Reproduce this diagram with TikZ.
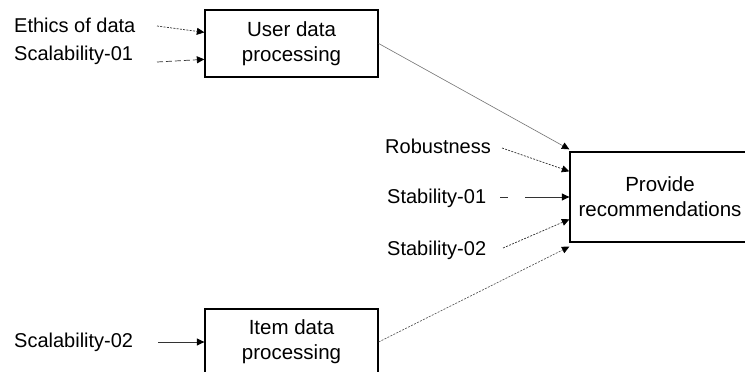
\documentclass[tikz,border=0pt]{standalone}
\usepackage{fontspec}
\setmainfont{Liberation Sans}
\usetikzlibrary{arrows.meta,calc}
\begin{document}
\begin{tikzpicture}[x=1pt,y=-1pt,
  boxnode/.style={draw=black,line width=1.3pt,rectangle,inner sep=0pt,align=center,
    font=\fontsize{20.5}{25}\selectfont},
  lbl/.style={anchor=base west,inner sep=0pt,font=\fontsize{20}{24}\selectfont},
  conn/.style={draw=black!80,line width=0.7pt,-{Triangle[length=7.5pt,width=7pt,color=black,fill=black]}},
  fine/.style={conn,dash pattern=on 2pt off 1.3pt},
  longdash/.style={conn,dash pattern=on 6pt off 3pt}
]
\useasboundingbox (0,0) rectangle (745,372);
\fill[white] (0,0) rectangle (745,372);

% boxes
\node[boxnode,minimum width=173pt,minimum height=67pt] (user) at (291.5,43.5) {User data\\processing};
\node[boxnode,minimum width=180pt,minimum height=90pt] (prov) at (660,197) {Provide\\recommendations};
\node[boxnode,minimum width=173pt,minimum height=66pt] (item) at (291.5,342) {Item data\\processing};

% labels
\node[lbl] (ethics) at (14,32.5) {Ethics of data};
\node[lbl] (scalA) at (14,60) {Scalability-01};
\node[lbl] (robust) at (385,153) {Robustness};
\node[lbl] (stabA) at (387,203) {Stability-01};
\node[lbl] (stabB) at (387,255) {Stability-02};
\node[lbl] (scalB) at (14,347) {Scalability-02};

% connector endpoints
\coordinate (ethicsOut) at (157,26);
\coordinate (scalAOut) at (157,62);
\coordinate (robustOut) at (502,148);
\coordinate (stabAOut) at (500,197);
\coordinate (stabBOut) at (503,248);
\coordinate (scalBOut) at (158,342);

\coordinate (userInA) at ($(user.north west)+(0,23)$);
\coordinate (userInB) at ($(user.north west)+(0,50)$);
\coordinate (provInTop) at ($(prov.north west)+(0,-2)$);
\coordinate (provInR) at ($(prov.north west)+(0,20)$);
\coordinate (provInS) at ($(prov.north west)+(0,68)$);
\coordinate (provInBot) at ($(prov.south west)+(0,4)$);

% connectors
\draw[fine] (ethicsOut) -- (userInA);
\draw[longdash] (scalAOut) -- (userInB);
\draw[conn,draw=black!55,line width=0.6pt] (user.east) -- (provInTop);
\draw[fine] (robustOut) -- (provInR);
\draw[conn,dash pattern=on 8pt off 17pt on 80pt] (stabAOut) -- (prov.west);
\draw[fine] (stabBOut) -- (provInS);
\draw[fine,draw=black!65] (item.east) -- (provInBot);
\draw[conn] (scalBOut) -- (item.west);
\end{tikzpicture}
\end{document}
